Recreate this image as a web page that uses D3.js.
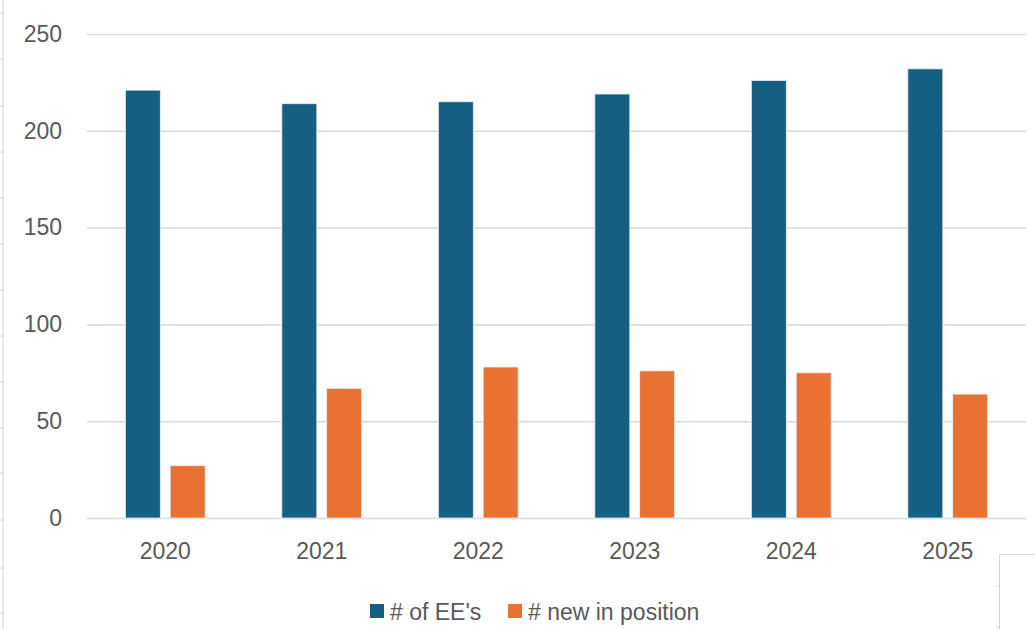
<html lang="en">
<head>
<meta charset="UTF-8">
<title>Chart</title>
<script src="https://d3js.org/d3.v7.min.js"></script>
<style>
  body { margin: 0; background: #fff; }
  text { font-family: "Liberation Sans", Arial, sans-serif; }
</style>
</head>
<body>
<script>
const years = ["2020", "2021", "2022", "2023", "2024", "2025"]
const employees = [221, 214, 215, 219, 226, 232]
const newInPosition = [27, 67, 78, 76, 75, 64]
const seriesNames = ["# of EE's", "# new in position"]
const yTicks = [0, 50, 100, 150, 200, 250]

const width = 1035, height = 629
const plotLeft = 87, plotRight = 1026, plotTop = 34, plotBottom = 518
const colors = ["#156082", "#E97132"]

const svg = d3.select("body").append("svg")
  .attr("width", width)
  .attr("height", height)

// spreadsheet cell borders peeking in at the edges
svg.append("line").attr("x1", 3).attr("x2", 3).attr("y1", 0).attr("y2", height)
  .attr("stroke", "#d4d4d4").attr("stroke-width", 1)
for (let yy of [13, 59, 106, 152, 198, 244, 290, 336, 382, 428, 473, 520, 568, 613]) {
  svg.append("line").attr("x1", 0).attr("x2", 4).attr("y1", yy).attr("y2", yy)
    .attr("stroke", "#d4d4d4")
}
svg.append("path").attr("d", "M999.5,629V554.5H1035")
  .attr("fill", "none").attr("stroke", "#d4d4d4")
for (let yy of [586, 627]) {
  svg.append("line").attr("x1", 996).attr("x2", 999).attr("y1", yy).attr("y2", yy)
    .attr("stroke", "#d4d4d4")
}

const x = d3.scaleBand().domain(years).range([plotLeft, plotRight]).paddingInner(0.49).paddingOuter(0.245)
const x1 = d3.scaleBand().domain([0, 1]).range([0, x.bandwidth()]).paddingInner(0.22)
const y = d3.scaleLinear().domain([0, 250]).range([plotBottom, plotTop])

// gridlines
svg.append("g")
  .attr("transform", `translate(${plotLeft},0)`)
  .call(d3.axisLeft(y).tickValues(yTicks).tickSize(-(plotRight - plotLeft)).tickFormat(""))
  .call(g => g.select(".domain").remove())
  .call(g => g.selectAll("line").attr("stroke", "#d9d9d9").attr("stroke-width", 1.5))

// y labels
svg.append("g")
  .attr("transform", `translate(${plotLeft},0)`)
  .call(d3.axisLeft(y).tickValues(yTicks).tickSize(0).tickPadding(25))
  .call(g => g.select(".domain").remove())
  .call(g => g.selectAll("text").attr("fill", "#595959").attr("font-size", 23)
    .attr("font-family", "'Liberation Sans', Arial, sans-serif"))

// bars
const rows = years.map((yr, i) => ({year: yr, vals: [employees[i], newInPosition[i]]}))
const grp = svg.append("g").selectAll("g").data(rows).enter().append("g")
  .attr("transform", d => `translate(${x(d.year)},0)`)
grp.selectAll("rect").data(d => d.vals.map((v, k) => ({k, v}))).enter().append("rect")
  .attr("x", d => x1(d.k))
  .attr("width", x1.bandwidth())
  .attr("y", d => y(d.v))
  .attr("height", d => y(0) - y(d.v))
  .attr("fill", d => colors[d.k])
  .attr("stroke", "#e6f0f6")
  .attr("stroke-width", 0.8)

// x labels
svg.append("g")
  .attr("transform", `translate(0,${plotBottom})`)
  .call(d3.axisBottom(x).tickSize(0).tickPadding(25))
  .call(g => g.select(".domain").remove())
  .call(g => g.selectAll("text").attr("fill", "#595959").attr("font-size", 23)
    .attr("font-family", "'Liberation Sans', Arial, sans-serif"))

// legend
const legendX = [370, 508]
const leg = svg.append("g").selectAll("g").data(seriesNames).enter().append("g")
  .attr("transform", (d, i) => `translate(${legendX[i]},604)`)
leg.append("rect").attr("width", 14).attr("height", 14).attr("fill", (d, i) => colors[i])
leg.append("text").attr("x", 20).attr("y", 16)
  .attr("fill", "#595959").attr("font-size", 23)
  .text(d => d)
</script>
</body>
</html>
